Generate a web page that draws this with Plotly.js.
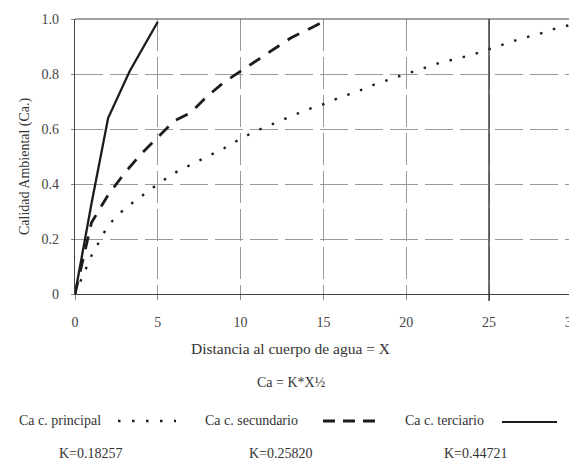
<!DOCTYPE html>
<html><head><meta charset="utf-8">
<script src="https://cdn.plot.ly/plotly-3.0.1.min.js"></script>
<style>html,body{margin:0;padding:0;background:#fff}</style>
</head><body><div id="chart" style="width:569px;height:463px"></div>
<script>
// Data
const xPrincipal = [0,1,2,3,4,5,6,7,8,9,10,11,12,13,14,15,16,17,18,19,20,21,22,23,24,25,26,27,28,29,30];
const yPrincipal = [0,0.14,0.25,0.31,0.355,0.40,0.44,0.47,0.50,0.53,0.565,0.595,0.62,0.645,0.67,0.69,0.715,0.735,0.76,0.78,0.80,0.82,0.84,0.855,0.87,0.89,0.91,0.93,0.945,0.965,0.98];
const xSecundario = [0,1,2,3,4,5,6,7,8,9,10,11,12,13,14,15];
const ySecundario = [0,0.26,0.36,0.44,0.51,0.57,0.63,0.66,0.72,0.77,0.81,0.85,0.89,0.93,0.96,0.99];
const xTerciario = [0,1,2,3.3,5];
const yTerciario = [0,0.33,0.64,0.81,0.99];
const xTicks = [0,5,10,15,20,25];
const yTicks = [0,0.2,0.4,0.6,0.8,1.0];
const yTickText = ['0','0.2','0.4','0.6','0.8','1.0'];
const seriesNames = ['Ca c. principal','Ca c. secundario','Ca c. terciario'];
const kValues = ['K=0.18257','K=0.25820','K=0.44721'];

const ink = '#1c1c1c';
const fam = '"Liberation Serif", "DejaVu Serif", serif';
const font = {family:fam, size:14, color:'#333'};
const tickFont = {family:fam, size:14, color:'#444'};

const traces = [
  {x:xPrincipal, y:yPrincipal, mode:'lines', name:seriesNames[0], line:{color:ink, width:2.4, dash:'2.5px,11px'}},
  {x:xSecundario, y:ySecundario, mode:'lines', name:seriesNames[1], line:{color:ink, width:2.8, dash:'13px,10px'}},
  {x:xTerciario, y:yTerciario, mode:'lines', name:seriesNames[2], line:{color:ink, width:2.3}}
];

const L = 75, R = 569, T = 19, B = 294, W = 569, H = 463;
const px = v => (v - L) / (R - L);
const pyp = pix => (B - pix) / (B - T);

const layout = {
  width:W, height:H,
  margin:{l:L, r:0, t:T, b:H-B, pad:0},
  paper_bgcolor:'#fff', plot_bgcolor:'#fff',
  font:font,
  showlegend:false,
  xaxis:{range:[0,29.83], tickvals:xTicks, ticktext:xTicks.map(String), showgrid:true,
    gridcolor:'#999', gridwidth:1, griddash:'32px,6px', zeroline:false,
    showline:true, linecolor:'#444', linewidth:1.2, ticks:'outside', ticklen:5, tickcolor:'#888', tickwidth:1,
    ticklabelstandoff:10, tickfont:tickFont},
  yaxis:{range:[0,1.0], tickvals:yTicks, ticktext:yTickText, showgrid:true,
    gridcolor:'#999', gridwidth:1, griddash:'28px,7px', zeroline:false,
    showline:true, linecolor:'#444', linewidth:1.2, ticks:'outside', ticklen:3, tickcolor:'#888', tickwidth:1,
    ticklabelstandoff:9, tickfont:tickFont},
  shapes:[
    {type:'line', xref:'x', yref:'paper', x0:25, x1:25, y0:-0.025, y1:1, line:{color:'#333', width:1.4}},
    {type:'line', xref:'paper', yref:'paper', x0:0, x1:1, y0:1, y1:1, line:{color:'#444', width:1.2}},
    // legend line samples
    {type:'line', xref:'paper', yref:'paper', x0:px(118), x1:px(176), y0:pyp(421), y1:pyp(421), line:{color:ink, width:2.6, dash:'2.5px,11.5px'}},
    {type:'line', xref:'paper', yref:'paper', x0:px(323), x1:px(381), y0:pyp(421), y1:pyp(421), line:{color:ink, width:3, dash:'12px,8px'}},
    {type:'line', xref:'paper', yref:'paper', x0:px(502), x1:px(557), y0:pyp(422), y1:pyp(422), line:{color:ink, width:2.2}}
  ],
  annotations:[
    {xref:'paper', yref:'paper', x:px(25), y:pyp(166), text:'Calidad Ambiental (Ca.)', textangle:-90, showarrow:false, font:{family:fam, size:14, color:'#333'}, xanchor:'center', yanchor:'middle'},
    {xref:'paper', yref:'paper', x:px(572), y:pyp(322), text:'30', showarrow:false, font:tickFont, xanchor:'center', yanchor:'middle'},
    {xref:'paper', yref:'paper', x:px(290), y:pyp(348), text:'Distancia al cuerpo de agua = X', showarrow:false, font:{family:fam, size:15.5, color:'#333'}, xanchor:'center', yanchor:'middle'},
    {xref:'paper', yref:'paper', x:px(291), y:pyp(382), text:'Ca = K*X½', showarrow:false, font:font, xanchor:'center', yanchor:'middle'},
    {xref:'paper', yref:'paper', x:px(17), y:pyp(420), text:seriesNames[0], showarrow:false, font:font, xanchor:'left', yanchor:'middle'},
    {xref:'paper', yref:'paper', x:px(203), y:pyp(420), text:seriesNames[1], showarrow:false, font:font, xanchor:'left', yanchor:'middle'},
    {xref:'paper', yref:'paper', x:px(403), y:pyp(420), text:seriesNames[2], showarrow:false, font:font, xanchor:'left', yanchor:'middle'},
    {xref:'paper', yref:'paper', x:px(91), y:pyp(453), text:kValues[0], showarrow:false, font:font, xanchor:'center', yanchor:'middle'},
    {xref:'paper', yref:'paper', x:px(281), y:pyp(453), text:kValues[1], showarrow:false, font:font, xanchor:'center', yanchor:'middle'},
    {xref:'paper', yref:'paper', x:px(476), y:pyp(453), text:kValues[2], showarrow:false, font:font, xanchor:'center', yanchor:'middle'}
  ]
};

Plotly.newPlot('chart', traces, layout, {staticPlot:true, displayModeBar:false});
</script>
</body></html>
